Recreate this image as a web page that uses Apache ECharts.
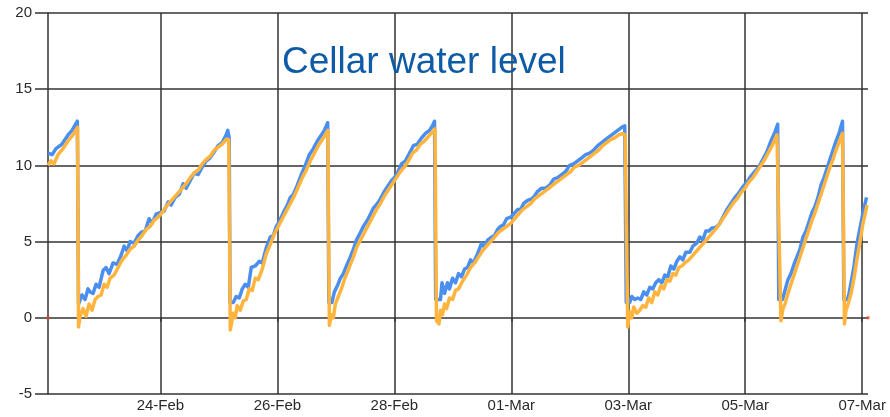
<!DOCTYPE html>
<html>
<head>
<meta charset="utf-8">
<script src="https://cdn.jsdelivr.net/npm/echarts@6/dist/echarts.min.js"></script>
<style>html,body{margin:0;padding:0;background:#fff;}#c{width:890px;height:417px;}</style>
</head>
<body>
<div id="c"></div>
<script>
// x values: days since 22-Feb 00:00 (leap year)
var tickDays = [2, 4, 6, 8, 10, 12, 14];
var tickLabels = ['24-Feb', '26-Feb', '28-Feb', '01-Mar', '03-Mar', '05-Mar', '07-Mar'];
var yTicks = [-5, 0, 5, 10, 15, 20];
var xRange = [0.077, 14.1];

var blueLevel = [
[0.077,10.8],[0.146,10.7],[0.214,11.1],[0.317,11.4],[0.420,12.0],[0.488,12.3],[0.579,12.9],
[0.599,0.9],[0.625,0.8],[0.659,1.5],[0.711,1.2],[0.762,1.9],[0.796,1.7],[0.848,1.6],[0.899,2.2],[0.950,2.0],[1.019,3.1],[1.070,3.3],[1.122,2.9],[1.190,3.6],[1.259,3.5],[1.327,4.1],[1.378,4.7],[1.430,4.4],[1.481,5.0],[1.550,4.9],[1.618,5.4],[1.670,5.6],[1.738,5.7],[1.806,6.5],[1.858,6.2],[1.926,6.8],[1.995,6.9],[2.063,7.0],[2.132,7.6],[2.183,7.4],[2.252,7.9],[2.320,8.1],[2.389,8.8],[2.440,8.5],[2.508,9.0],[2.577,9.5],[2.646,9.4],[2.714,9.9],[2.783,10.3],[2.851,10.5],[2.919,10.9],[2.988,11.3],[3.056,11.5],[3.125,12.0],[3.151,12.3],[3.176,11.8],
[3.190,1.0],[3.245,1.0],[3.296,1.4],[3.348,1.3],[3.399,1.9],[3.450,2.2],[3.502,2.0],[3.553,3.3],[3.621,3.4],[3.690,3.7],[3.741,3.6],[3.810,4.6],[3.878,5.3],[3.930,5.4],[3.981,6.0],[4.032,6.3],[4.101,6.9],[4.170,7.4],[4.221,7.9],[4.272,8.1],[4.341,8.7],[4.409,9.4],[4.478,10.0],[4.546,10.7],[4.615,11.1],[4.683,11.6],[4.752,12.0],[4.803,12.3],[4.860,12.8],
[4.880,1.0],[4.932,1.0],[4.974,1.7],[5.026,2.1],[5.077,2.6],[5.128,2.9],[5.180,3.4],[5.248,4.0],[5.300,4.5],[5.351,5.1],[5.420,5.6],[5.471,6.0],[5.539,6.4],[5.591,6.8],[5.642,7.2],[5.711,7.5],[5.762,7.8],[5.830,8.3],[5.882,8.6],[5.950,9.0],[6.002,9.2],[6.053,9.5],[6.122,10.1],[6.190,10.3],[6.258,10.8],[6.327,11.3],[6.395,11.4],[6.464,11.8],[6.533,12.1],[6.601,12.3],[6.652,12.6],[6.687,12.9],
[6.707,1.2],[6.789,1.2],[6.815,2.3],[6.858,1.6],[6.909,2.3],[6.943,1.9],[6.995,2.6],[7.046,2.3],[7.098,2.9],[7.149,2.7],[7.200,3.2],[7.252,3.3],[7.303,3.8],[7.354,3.6],[7.423,4.2],[7.491,4.9],[7.543,4.6],[7.594,5.1],[7.663,5.3],[7.714,5.4],[7.765,5.8],[7.817,6.0],[7.868,6.1],[7.920,6.5],[7.988,6.6],[8.039,6.8],[8.108,7.1],[8.159,7.1],[8.211,7.5],[8.279,7.7],[8.348,7.8],[8.399,8.0],[8.450,8.3],[8.519,8.5],[8.587,8.5],[8.656,8.7],[8.724,9.1],[8.793,9.2],[8.861,9.4],[8.930,9.6],[8.998,10.0],[9.067,10.1],[9.135,10.3],[9.204,10.5],[9.272,10.7],[9.341,10.8],[9.409,11.0],[9.478,11.3],[9.546,11.5],[9.614,11.7],[9.683,11.9],[9.752,12.1],[9.820,12.3],[9.889,12.5],[9.940,12.6],
[9.966,1.0],[10.025,1.0],[10.060,1.4],[10.111,1.2],[10.163,1.3],[10.214,1.2],[10.265,1.7],[10.317,1.5],[10.368,2.0],[10.420,1.9],[10.471,2.3],[10.522,2.5],[10.574,2.3],[10.625,2.8],[10.676,2.7],[10.728,3.4],[10.779,3.2],[10.830,3.7],[10.882,4.0],[10.933,3.8],[10.984,4.3],[11.053,4.3],[11.104,4.7],[11.173,4.9],[11.224,5.3],[11.276,5.1],[11.327,5.7],[11.378,5.7],[11.430,5.9],[11.481,5.9],[11.550,6.1],[11.618,6.6],[11.687,7.1],[11.755,7.5],[11.824,7.9],[11.892,8.2],[11.961,8.6],[12.029,8.9],[12.098,9.3],[12.166,9.6],[12.235,9.9],[12.303,10.4],[12.372,10.9],[12.440,11.6],[12.509,12.2],[12.555,12.7],
[12.574,1.2],[12.637,1.2],[12.680,1.8],[12.731,2.5],[12.783,2.9],[12.834,3.5],[12.885,4.0],[12.937,4.5],[12.988,5.3],[13.039,5.7],[13.091,6.3],[13.142,6.9],[13.193,7.3],[13.245,7.9],[13.296,8.7],[13.348,9.2],[13.399,9.8],[13.450,10.4],[13.502,11.0],[13.553,11.6],[13.604,12.1],[13.664,12.9],
[13.687,1.2],[13.750,1.2],[13.776,1.6],[13.810,2.3],[13.861,3.4],[13.913,4.9],[13.964,5.9],[14.015,6.9],[14.075,7.9]
];

var orangeLevel = [
[0.077,10.0],[0.128,10.3],[0.180,10.1],[0.248,10.7],[0.334,11.1],[0.420,11.6],[0.505,12.0],[0.582,12.5],
[0.599,-0.6],[0.625,0.1],[0.676,0.6],[0.728,0.1],[0.779,0.9],[0.830,0.5],[0.882,1.2],[0.933,1.4],[0.985,1.5],[1.036,2.2],[1.087,2.0],[1.139,2.6],[1.207,2.8],[1.276,3.3],[1.344,3.8],[1.413,4.1],[1.481,4.5],[1.550,4.7],[1.618,5.1],[1.687,5.4],[1.755,5.8],[1.824,6.0],[1.892,6.4],[1.961,6.6],[2.029,6.9],[2.098,7.3],[2.166,7.6],[2.235,7.9],[2.303,8.2],[2.372,8.5],[2.440,8.8],[2.508,9.2],[2.577,9.5],[2.646,9.7],[2.714,10.1],[2.783,10.4],[2.851,10.6],[2.919,11.0],[2.988,11.2],[3.056,11.4],[3.125,11.7],[3.168,11.7],
[3.194,-0.8],[3.219,-0.7],[3.245,0.3],[3.279,0.0],[3.313,0.8],[3.365,0.5],[3.416,1.1],[3.467,1.2],[3.519,1.9],[3.570,1.8],[3.621,2.6],[3.673,2.5],[3.741,3.2],[3.810,4.2],[3.878,4.8],[3.947,5.5],[4.015,6.0],[4.084,6.5],[4.152,7.0],[4.221,7.5],[4.289,8.0],[4.358,8.6],[4.426,9.2],[4.495,9.7],[4.563,10.3],[4.632,10.8],[4.700,11.3],[4.769,11.7],[4.820,12.0],[4.863,12.3],
[4.889,-0.5],[4.923,0.2],[4.957,0.0],[4.991,0.9],[5.043,1.4],[5.094,1.9],[5.145,2.5],[5.197,3.0],[5.248,3.5],[5.300,4.0],[5.351,4.6],[5.420,5.1],[5.488,5.6],[5.557,6.1],[5.625,6.6],[5.694,7.1],[5.762,7.5],[5.830,8.0],[5.899,8.4],[5.967,8.8],[6.036,9.2],[6.104,9.6],[6.173,9.9],[6.241,10.3],[6.310,10.8],[6.378,11.0],[6.447,11.4],[6.515,11.6],[6.584,11.9],[6.652,12.2],[6.695,12.4],
[6.721,-0.2],[6.764,-0.4],[6.789,0.5],[6.824,0.2],[6.858,0.9],[6.892,0.6],[6.943,1.3],[6.995,1.2],[7.046,1.8],[7.098,1.9],[7.166,2.4],[7.235,2.8],[7.303,3.3],[7.372,3.6],[7.440,4.0],[7.509,4.4],[7.577,4.7],[7.646,5.0],[7.714,5.3],[7.783,5.6],[7.851,5.8],[7.920,6.0],[7.988,6.2],[8.057,6.5],[8.125,6.8],[8.193,7.1],[8.262,7.3],[8.331,7.5],[8.399,7.8],[8.467,8.0],[8.536,8.2],[8.604,8.4],[8.673,8.6],[8.741,8.8],[8.810,9.0],[8.878,9.2],[8.947,9.4],[9.015,9.6],[9.084,9.9],[9.152,10.0],[9.221,10.2],[9.289,10.4],[9.358,10.6],[9.426,10.8],[9.495,11.0],[9.563,11.3],[9.632,11.5],[9.700,11.7],[9.769,11.8],[9.837,12.0],[9.906,12.1],[9.948,12.0],
[9.991,-0.6],[10.025,0.4],[10.060,0.0],[10.094,0.7],[10.146,0.3],[10.197,0.5],[10.248,0.8],[10.300,0.7],[10.351,1.3],[10.402,1.0],[10.454,1.7],[10.505,1.5],[10.557,2.1],[10.608,1.9],[10.659,2.5],[10.711,2.4],[10.762,2.9],[10.813,2.8],[10.865,3.3],[10.916,3.4],[10.967,3.6],[11.036,3.8],[11.104,4.1],[11.173,4.4],[11.241,4.7],[11.310,5.0],[11.378,5.3],[11.447,5.6],[11.515,5.9],[11.584,6.3],[11.652,6.7],[11.721,7.1],[11.789,7.5],[11.858,7.8],[11.926,8.2],[11.995,8.5],[12.063,8.9],[12.132,9.2],[12.200,9.6],[12.269,10.0],[12.337,10.4],[12.406,10.9],[12.474,11.4],[12.543,12.0],[12.560,12.1],
[12.611,-0.2],[12.646,0.6],[12.680,0.9],[12.731,1.6],[12.783,2.2],[12.834,2.8],[12.885,3.4],[12.937,4.0],[12.988,4.6],[13.039,5.2],[13.091,5.8],[13.142,6.4],[13.193,6.9],[13.245,7.5],[13.296,8.1],[13.348,8.7],[13.399,9.3],[13.450,9.9],[13.502,10.4],[13.553,11.0],[13.604,11.5],[13.664,12.1],
[13.698,-0.4],[13.724,0.5],[13.759,0.9],[13.810,1.6],[13.861,2.6],[13.913,3.9],[13.964,5.0],[14.015,6.2],[14.084,7.4]
];

var markerPoints = [[0.077, 0], [14.1, 0]];

var chart = echarts.init(document.getElementById('c'), null, {renderer: 'canvas'});
var gridColor = '#333333';
chart.setOption({
  animation: false,
  backgroundColor: '#fff',
  title: {
    text: 'Cellar water level',
    left: 282, top: 44, padding: 0,
    textStyle: {color: '#0d5ba6', fontSize: 37, fontWeight: 'normal', fontFamily: 'Liberation Sans, Arial, sans-serif'}
  },
  grid: {left: 48, right: 22, top: 13, bottom: 23, containLabel: false},
  xAxis: {
    type: 'value', min: xRange[0], max: xRange[1],
    axisLine: {show: false},
    axisTick: {show: true, length: 4, customValues: tickDays, lineStyle: {color: gridColor, width: 1.5}},
    axisLabel: {
      customValues: tickDays, margin: 4, color: '#2a2a2a', fontSize: 15,
      fontFamily: 'Liberation Sans, Arial, sans-serif', hideOverlap: false,
      formatter: function (v) { var i = tickDays.indexOf(v); return i >= 0 ? tickLabels[i] : ''; }
    },
    splitLine: {show: true, lineStyle: {color: gridColor, width: 1.5}}
  },
  yAxis: {
    type: 'value', min: yTicks[0], max: yTicks[yTicks.length - 1], interval: 5,
    axisLine: {show: true, lineStyle: {color: gridColor, width: 1.5}},
    axisTick: {show: true, length: 13, lineStyle: {color: gridColor, width: 1.5}},
    axisLabel: {margin: 16, color: '#2a2a2a', fontSize: 15, fontFamily: 'Liberation Sans, Arial, sans-serif'},
    splitLine: {show: true, lineStyle: {color: gridColor, width: 1.5}}
  },
  series: [
    {type: 'line', data: blueLevel, showSymbol: false, symbol: 'none',
     lineStyle: {color: '#4a8ef0', width: 3.5, join: 'round'}, z: 3},
    {type: 'line', data: orangeLevel, showSymbol: false, symbol: 'none',
     lineStyle: {color: '#ffb43e', width: 3.5, join: 'round'}, z: 4},
    {type: 'scatter', data: markerPoints, symbol: 'rect', symbolSize: 3, clip: false,
     itemStyle: {color: '#e8461c'}, z: 5}
  ]
});
</script>
</body>
</html>
